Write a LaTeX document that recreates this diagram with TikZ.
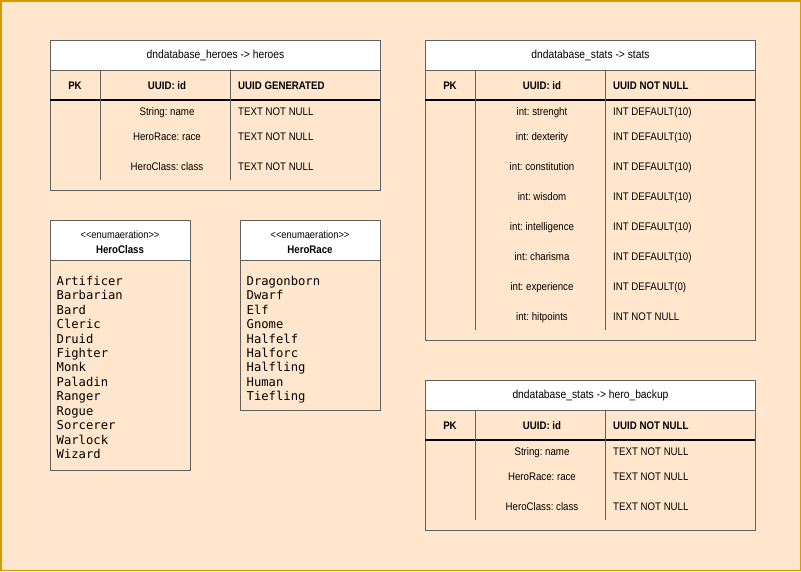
\documentclass[tikz,border=0pt]{standalone}
\usepackage{fontspec}
\setmainfont[FakeStretch=0.88]{Liberation Sans}
\newfontfamily\codefont{DejaVu Sans Mono}
\definecolor{bgpeach}{HTML}{FFE6CC}
\definecolor{frameorange}{HTML}{D79B00}
\definecolor{boxgray}{HTML}{606060}
\frenchspacing
\begin{document}
\begin{tikzpicture}[x=1pt,y=-1pt,
  tblbox/.style={draw=boxgray, line width=1pt, rectangle, inner sep=0pt, anchor=north west},
  titlecell/.style={draw=boxgray, fill=white, line width=1pt, rectangle, inner sep=0pt,
    anchor=north west, font=\fontsize{11.7}{14}\selectfont},
  sepline/.style={draw=black, line width=1.2pt},
  colline/.style={draw=boxgray, line width=1pt},
  cellc/.style={inner sep=0pt, anchor=base, font=\fontsize{11}{13}\selectfont},
  celll/.style={cellc, anchor=base west},
  hdrc/.style={cellc, font=\bfseries\fontsize{11}{13}\selectfont},
  hdrl/.style={hdrc, anchor=base west},
  stereo/.style={inner sep=0pt, anchor=base, font=\fontsize{10.6}{12}\selectfont},
  enumname/.style={inner sep=0pt, anchor=base, font=\bfseries\fontsize{11}{13}\selectfont},
  item/.style={inner sep=0pt, anchor=base west, font=\codefont\fontsize{12.2}{14}\selectfont}]

% canvas
\useasboundingbox (0,0) rectangle (801,571);
\fill[bgpeach] (0,0) rectangle (801,571);
\draw[frameorange, line width=1.5pt] (0.75,0.75) rectangle (800.25,570.25);

% ---------- table: heroes ----------
\node[tblbox, minimum width=330pt, minimum height=150pt] (heroes) at (50,40) {};
\node[titlecell, minimum width=330pt, minimum height=30pt] (heroes-title) at (50,40)
  {dndatabase\_heroes -> heroes};
\draw[sepline] (50,100) -- (380,100);
\draw[colline] (100,70) -- (100,180);
\draw[colline] (230,70) -- (230,180);
\node[hdrc] (heroes-pk) at (75,89) {PK};
\node[hdrc] (heroes-idf) at (167,89) {UUID: id};
\node[hdrl] (heroes-idt) at (238,89) {UUID GENERATED};
\foreach \n/\y/\f/\t in {name/115/String: name/TEXT NOT NULL,
                         race/140/HeroRace: race/TEXT NOT NULL,
                         class/170/HeroClass: class/TEXT NOT NULL} {
  \node[cellc] (heroes-f-\n) at (167,\y) {\f};
  \node[celll] (heroes-t-\n) at (238,\y) {\t};
}

% ---------- table: stats ----------
\node[tblbox, minimum width=330pt, minimum height=300pt] (stats) at (425,40) {};
\node[titlecell, minimum width=330pt, minimum height=30pt] (stats-title) at (425,40)
  {dndatabase\_stats -> stats};
\draw[sepline] (425,100) -- (755,100);
\draw[colline] (475,70) -- (475,330);
\draw[colline] (605,70) -- (605,330);
\node[hdrc] (stats-pk) at (450,89) {PK};
\node[hdrc] (stats-idf) at (542,89) {UUID: id};
\node[hdrl] (stats-idt) at (613,89) {UUID NOT NULL};
\foreach \n/\y/\f/\t in {str/115/int: strenght/INT DEFAULT(10),
                         dex/140/int: dexterity/INT DEFAULT(10),
                         con/170/int: constitution/INT DEFAULT(10),
                         wis/200/int: wisdom/INT DEFAULT(10),
                         int/230/int: intelligence/INT DEFAULT(10),
                         cha/260/int: charisma/INT DEFAULT(10),
                         exp/290/int: experience/INT DEFAULT(0),
                         hp/320/int: hitpoints/INT NOT NULL} {
  \node[cellc] (stats-f-\n) at (542,\y) {\f};
  \node[celll] (stats-t-\n) at (613,\y) {\t};
}

% ---------- table: hero_backup ----------
\node[tblbox, minimum width=330pt, minimum height=150pt] (backup) at (425,380) {};
\node[titlecell, minimum width=330pt, minimum height=30pt] (backup-title) at (425,380)
  {dndatabase\_stats -> hero\_backup};
\draw[sepline] (425,440) -- (755,440);
\draw[colline] (475,410) -- (475,520);
\draw[colline] (605,410) -- (605,520);
\node[hdrc] (backup-pk) at (450,429) {PK};
\node[hdrc] (backup-idf) at (542,429) {UUID: id};
\node[hdrl] (backup-idt) at (613,429) {UUID NOT NULL};
\foreach \n/\y/\f/\t in {name/455/String: name/TEXT NOT NULL,
                         race/480/HeroRace: race/TEXT NOT NULL,
                         class/510/HeroClass: class/TEXT NOT NULL} {
  \node[cellc] (backup-f-\n) at (542,\y) {\f};
  \node[celll] (backup-t-\n) at (613,\y) {\t};
}

% ---------- enumeration: HeroClass ----------
\node[tblbox, minimum width=140pt, minimum height=250pt] (cls) at (50,220) {};
\node[titlecell, minimum width=140pt, minimum height=40pt] (cls-head) at (50,220) {};
\node[stereo] (cls-stereo) at (120,238) {{<}{<}enumaeration{>}{>}};
\node[enumname] (cls-name) at (120,253) {HeroClass};
\foreach \w [count=\i from 0] in {Artificer,Barbarian,Bard,Cleric,Druid,Fighter,Monk,
                                  Paladin,Ranger,Rogue,Sorcerer,Warlock,Wizard} {
  \node[item] (cls-\i) at (56.5,{285.3+14.44*\i}) {\w};
}

% ---------- enumeration: HeroRace ----------
\node[tblbox, minimum width=140pt, minimum height=190pt] (race) at (240,220) {};
\node[titlecell, minimum width=140pt, minimum height=40pt] (race-head) at (240,220) {};
\node[stereo] (race-stereo) at (310,238) {{<}{<}enumaeration{>}{>}};
\node[enumname] (race-name) at (310,253) {HeroRace};
\foreach \w [count=\i from 0] in {Dragonborn,Dwarf,Elf,Gnome,Halfelf,Halforc,Halfling,
                                  Human,Tiefling} {
  \node[item] (race-\i) at (246.5,{285.3+14.44*\i}) {\w};
}
\end{tikzpicture}
\end{document}
